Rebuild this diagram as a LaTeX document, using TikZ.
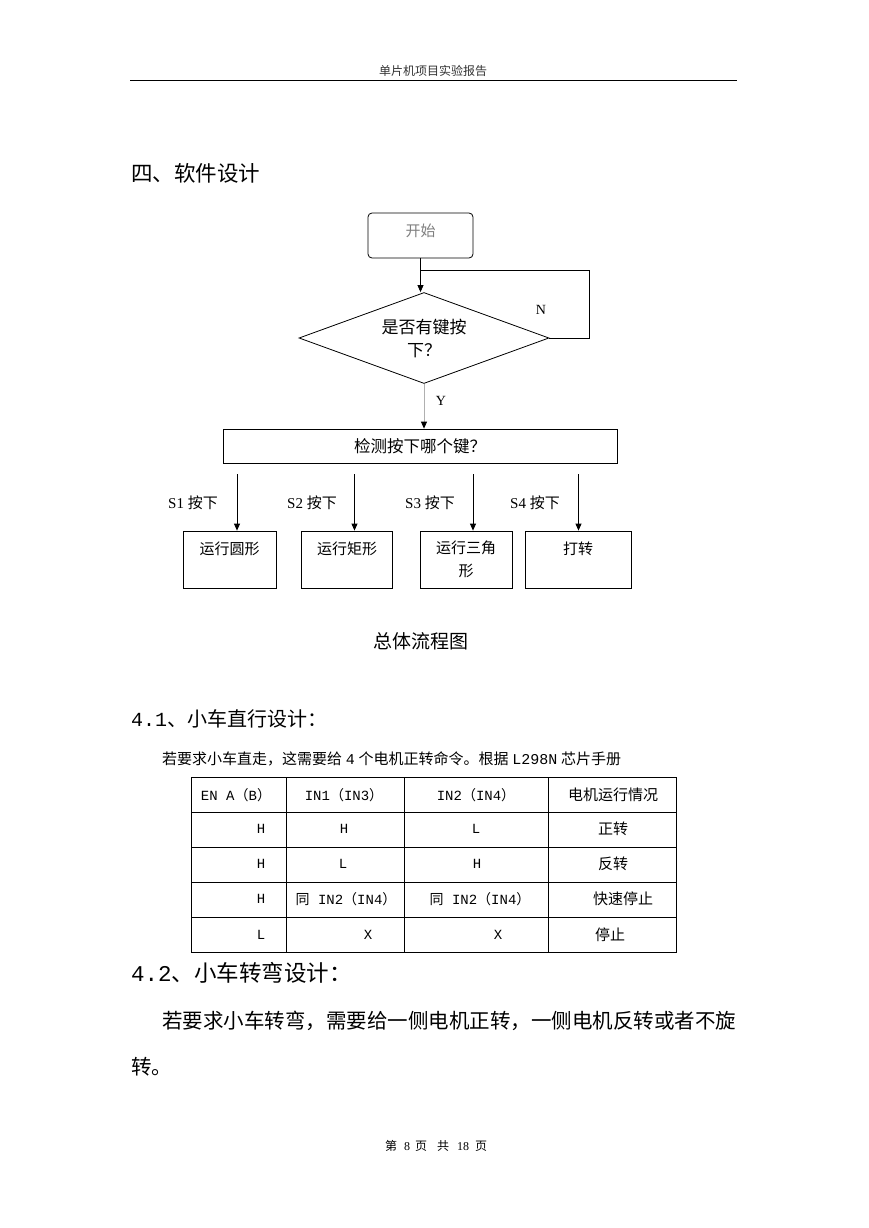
\documentclass[tikz,border=0pt]{standalone}
\usepackage{fontspec}
\setmainfont{Liberation Serif}
\newfontfamily\cjk{Noto Sans CJK SC}
\newfontfamily\mono{Liberation Mono}
\usetikzlibrary{arrows.meta,positioning,shapes.geometric}
\definecolor{HeadGrey}{HTML}{333333}
\definecolor{StartGrey}{HTML}{7F7F7F}
\definecolor{YLine}{HTML}{B0B0B0}
\newcommand{\zh}[1]{{\cjk #1}}
\newcommand{\pxsize}[1]{\fontsize{#1}{#1}\selectfont}

\begin{document}
\begin{tikzpicture}[x=1pt,y=-1pt,every node/.style={inner sep=0pt},
  flowline/.style={line width=0.8pt},
  arr/.style={flowline,-{Triangle[length=7pt,width=6pt]}},
  startbox/.style={draw,flowline,rounded corners=4pt,minimum width=105pt,minimum height=45pt,
    text height=13pt,text depth=11pt,font=\cjk\pxsize{15},text=StartGrey},
  decision/.style={diamond,draw,flowline,aspect=2.75,minimum width=250pt,minimum height=91pt,
    align=center,font=\cjk\fontsize{17}{23}\selectfont},
  checkbox/.style={draw,flowline,minimum width=394pt,minimum height=34pt,font=\cjk\pxsize{16.5}},
  actbox/.style={draw,flowline,minimum width=#1,minimum height=57pt,
    text height=13pt,text depth=23pt,font=\cjk\pxsize{15}},
  actbox2/.style={draw,flowline,minimum width=#1,minimum height=57pt,align=center,
    font=\cjk\fontsize{15}{23}\selectfont},
  keylabel/.style={anchor=west,font=\pxsize{15}},
  tline/.style={line width=0.8pt},
  cell/.style={font=\mono\pxsize{14}},
  zhcell/.style={font=\cjk\pxsize{15}}]
  \useasboundingbox[fill=white] (0,0) rectangle (869,1228);

  \node[font=\cjk\pxsize{12},text=HeadGrey] (header) at (433,71) {单片机项目实验报告};
  \draw[line width=1pt] (130,81) -- (737,81);

  \node[anchor=west,font=\cjk\pxsize{21.5}] (sec4) at (131,173) {四、软件设计};

  \node[startbox] (start) at (420.5,235.5) {开始};
  \node[decision] (dia) at (424,338) {是否有键按\\下？};
  \node[checkbox] (chk) at (420,446) {检测按下哪个键？};
  \coordinate (join) at (420.5,270);
  \draw[arr] (start.south) -- (start.south |- dia.north);
  \draw[flowline] (dia.east) -- ++(40,0) |- (join);
  \node[font=\pxsize{14}] (nlab) at (541,310) {N};
  \draw[flowline,draw=YLine,-{Triangle[length=7pt,width=6pt,black]}] (dia.south) -- (dia.south |- chk.north);
  \node[font=\pxsize{14}] (ylab) at (441,401) {Y};

  \node[actbox=93pt] (b1) at (229.5,559.5) {运行圆形};
  \node[actbox=91pt] (b2) at (347,559.5) {运行矩形};
  \node[actbox2=92pt] (b3) at (466,559.5) {运行三角\\形};
  \node[actbox=106pt] (b4) at (578,559.5) {打转};
  \coordinate (k1) at (237,474);
  \coordinate (k2) at (354.5,474);
  \coordinate (k3) at (473,474);
  \coordinate (k4) at (578.5,474);
  \draw[arr] (k1) -- (k1 |- b1.north);
  \draw[arr] (k2) -- (k2 |- b2.north);
  \draw[arr] (k3) -- (k3 |- b3.north);
  \draw[arr] (k4) -- (k4 |- b4.north);
  \node[keylabel] (s1) at (168,503) {S1 \zh{按下}};
  \node[keylabel] (s2) at (287,503) {S2 \zh{按下}};
  \node[keylabel] (s3) at (405,503) {S3 \zh{按下}};
  \node[keylabel] (s4) at (510,503) {S4 \zh{按下}};

  \node[font=\cjk\pxsize{19}] (caption) at (421,641) {总体流程图};

  \node[anchor=west,font=\pxsize{20}] (sec41) at (131,719) {{\mono 4.1}\zh{、小车直行设计：}};
  \node[anchor=west,font=\pxsize{15}] (para1) at (162,759)
     {\zh{若要求小车直走，这需要给} {\mono 4} \zh{个电机正转命令。根据} {\mono L298N} \zh{芯片手册}};

  \draw[tline] (191,777) rectangle (676,952);
  \draw[tline] (191,812) -- (676,812);
  \draw[tline] (191,847) -- (676,847);
  \draw[tline] (191,882) -- (676,882);
  \draw[tline] (191,917) -- (676,917);
  \draw[tline] (286,777) -- (286,952);
  \draw[tline] (404,777) -- (404,952);
  \draw[tline] (548,777) -- (548,952);

  \node[cell] (h1) at (236,795) {EN A\zh{（}B\zh{）}};
  \node[cell] (h2) at (344,795) {IN1\zh{（}IN3\zh{）}};
  \node[cell] (h3) at (476,795) {IN2\zh{（}IN4\zh{）}};
  \node[zhcell] (h4) at (613,795) {电机运行情况};
  \node[cell] (r1a) at (261,829) {H};
  \node[cell] (r1b) at (344,829) {H};
  \node[cell] (r1c) at (476,829) {L};
  \node[zhcell] (r1d) at (613,829) {正转};
  \node[cell] (r2a) at (261,864) {H};
  \node[cell] (r2b) at (343,864) {L};
  \node[cell] (r2c) at (477,864) {H};
  \node[zhcell] (r2d) at (613,864) {反转};
  \node[cell] (r3a) at (261,899) {H};
  \node[cell] (r3b) at (346,899) {\zh{同} IN2\zh{（}IN4\zh{）}};
  \node[cell] (r3c) at (480,899) {\zh{同} IN2\zh{（}IN4\zh{）}};
  \node[zhcell] (r3d) at (623,899) {快速停止};
  \node[cell] (r4a) at (261,935) {L};
  \node[cell] (r4b) at (368,935) {X};
  \node[cell] (r4c) at (498,935) {X};
  \node[zhcell] (r4d) at (610,935) {停止};

  \node[anchor=west,font=\pxsize{22.5}] (sec42) at (131,973) {{\mono 4.2}\zh{、小车转弯设计：}};
  \node[anchor=west,font=\cjk\pxsize{20.5}] (para2a) at (162,1021) {若要求小车转弯，需要给一侧电机正转，一侧电机反转或者不旋};
  \node[anchor=west,font=\cjk\pxsize{20.5}] (para2b) at (131,1067) {转。};

  \node[font=\pxsize{12}] (footer) at (436,1146)
     {\zh{第}\hspace{7pt}8\hspace{5pt}\zh{页}\hspace{10pt}\zh{共}\hspace{8pt}18\hspace{6pt}\zh{页}};
\end{tikzpicture}
\end{document}
